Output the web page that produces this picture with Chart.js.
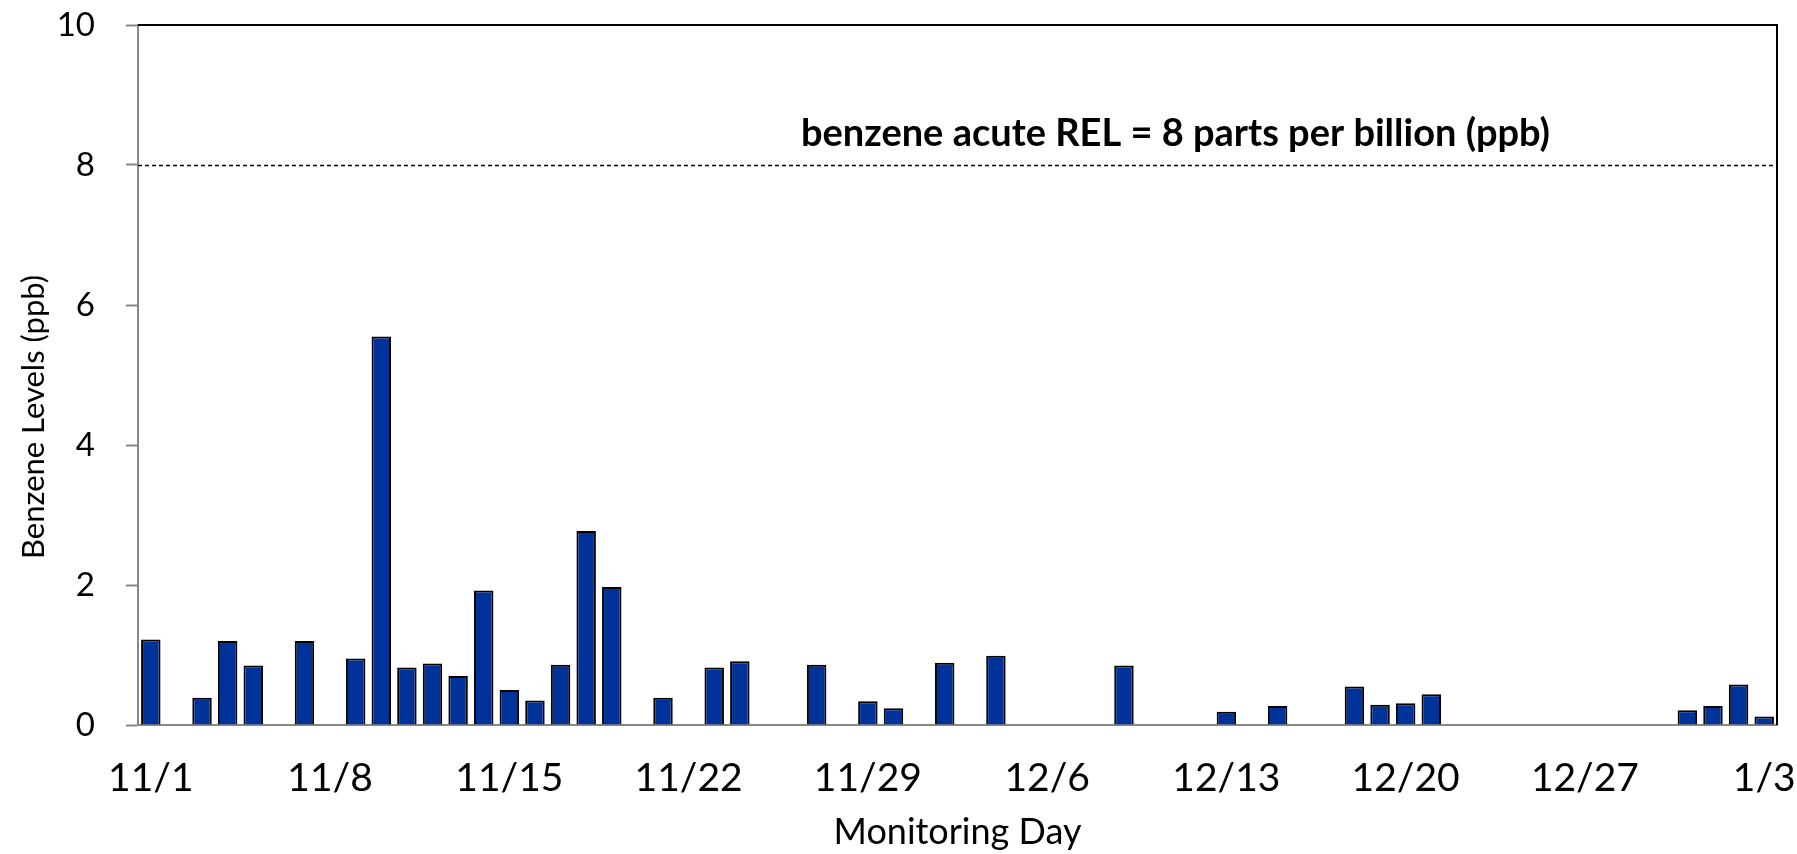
<!DOCTYPE html>
<html>
<head>
<meta charset="utf-8">
<script src="https://cdn.jsdelivr.net/npm/chart.js@4.4.1/dist/chart.umd.min.js"></script>
<style>
  html, body { margin: 0; padding: 0; background: #fff; }
  #wrap { width: 1797px; height: 854px; position: relative; }
</style>
</head>
<body>
<div id="wrap"><canvas id="benzeneChart"></canvas></div>
<script>
// monitoring days, 11/1 through 1/3
const days = [
  "11/1","11/2","11/3","11/4","11/5","11/6","11/7","11/8","11/9","11/10",
  "11/11","11/12","11/13","11/14","11/15","11/16","11/17","11/18","11/19","11/20",
  "11/21","11/22","11/23","11/24","11/25","11/26","11/27","11/28","11/29","11/30",
  "12/1","12/2","12/3","12/4","12/5","12/6","12/7","12/8","12/9","12/10",
  "12/11","12/12","12/13","12/14","12/15","12/16","12/17","12/18","12/19","12/20",
  "12/21","12/22","12/23","12/24","12/25","12/26","12/27","12/28","12/29","12/30",
  "12/31","1/1","1/2","1/3"
];

// benzene (ppb), null = no sample that day
const benzene = [
  1.22, null, 0.39, 1.20, 0.85, null, 1.20, null, 0.95, 5.55,
  0.82, 0.88, 0.70, 1.92, 0.50, 0.35, 0.86, 2.77, 1.97, null,
  0.39, null, 0.82, 0.91, null, null, 0.86, null, 0.34, 0.24,
  null, 0.89, null, 0.99, null, null, null, null, 0.85, null,
  null, null, 0.19, null, 0.27, null, null, 0.55, 0.29, 0.31,
  0.44, null, null, null, null, null, null, null, null, null,
  0.21, 0.27, 0.58, 0.12
];

const tickLabels = ["11/1","11/8","11/15","11/22","11/29","12/6","12/13","12/20","12/27","1/3"];
const yTicks = [0, 2, 4, 6, 8, 10];

const relValue = 8;
const relText = "benzene acute REL = 8 parts per billion (ppb)";
const yTitle = "Benzene Levels (ppb)";

const FONT = "Lato, 'Open Sans', sans-serif";

const frameAndRel = {
  id: "frameAndRel",
  afterDatasetsDraw(chart) {
    const { ctx, chartArea: a, scales: { y } } = chart;
    ctx.save();
    // top + right frame
    ctx.strokeStyle = "#000";
    ctx.lineWidth = 2;
    ctx.beginPath();
    ctx.moveTo(a.left, a.top);
    ctx.lineTo(a.right, a.top);
    ctx.lineTo(a.right, a.bottom);
    ctx.stroke();

    // REL dashed line
    const yy = Math.round(y.getPixelForValue(relValue)) + 0.5;
    ctx.lineWidth = 1.5;
    ctx.setLineDash([4, 3]);
    ctx.beginPath();
    ctx.moveTo(a.left, yy);
    ctx.lineTo(a.right, yy);
    ctx.stroke();
    ctx.setLineDash([]);

    ctx.fillStyle = "#000";
    ctx.font = "bold 38px " + FONT;
    ctx.textAlign = "center";
    ctx.textBaseline = "alphabetic";
    ctx.fillText(relText, a.left + a.width * 0.633, yy - 20);

    // y axis title, sits a bit below the middle of the axis like the original
    ctx.translate(34, y.getPixelForValue(4.4));
    ctx.rotate(-Math.PI / 2);
    ctx.font = "31px " + FONT;
    ctx.textBaseline = "middle";
    ctx.fillText(yTitle, 0, 0);
    ctx.restore();
  }
};

new Chart(document.getElementById("benzeneChart").getContext("2d"), {
  type: "bar",
  data: {
    labels: days,
    datasets: [{
      label: "Benzene",
      data: benzene,
      backgroundColor: "#003399",
      borderColor: "#000",
      borderWidth: 2,
      barPercentage: 0.76,
      categoryPercentage: 1.0
    }]
  },
  options: {
    responsive: true,
    maintainAspectRatio: false,
    animation: false,
    layout: { padding: { top: 25, right: 20, left: 0, bottom: 0 } },
    plugins: { legend: { display: false }, tooltip: { enabled: false } },
    scales: {
      x: {
        grid: { display: false, drawTicks: false },
        border: { display: true, color: "#888", width: 2 },
        ticks: {
          autoSkip: false,
          maxRotation: 0,
          padding: 30,
          color: "#000",
          font: { family: FONT, size: 39 },
          callback: (v, i) => tickLabels.includes(days[i]) ? days[i] : ""
        },
        title: {
          display: true,
          text: "Monitoring Day",
          color: "#000",
          font: { family: FONT, size: 36 },
          padding: { top: 0, bottom: 0 }
        },
        afterFit: s => { s.height = 129; s.paddingLeft = 0; s.paddingRight = 0; }
      },
      y: {
        min: 0,
        max: 10,
        afterBuildTicks: s => { s.ticks = yTicks.map(v => ({ value: v })); },
        grid: { drawOnChartArea: false, drawTicks: true, tickLength: 12, tickColor: "#888", tickWidth: 2 },
        border: { display: true, color: "#888", width: 2 },
        ticks: {
          padding: 31,
          color: "#000",
          font: { family: FONT, size: 33 }
        },
        afterFit: s => { s.width = 138; s.paddingTop = 0; s.paddingBottom = 0; }
      }
    }
  },
  plugins: [frameAndRel]
});
</script>
</body>
</html>
